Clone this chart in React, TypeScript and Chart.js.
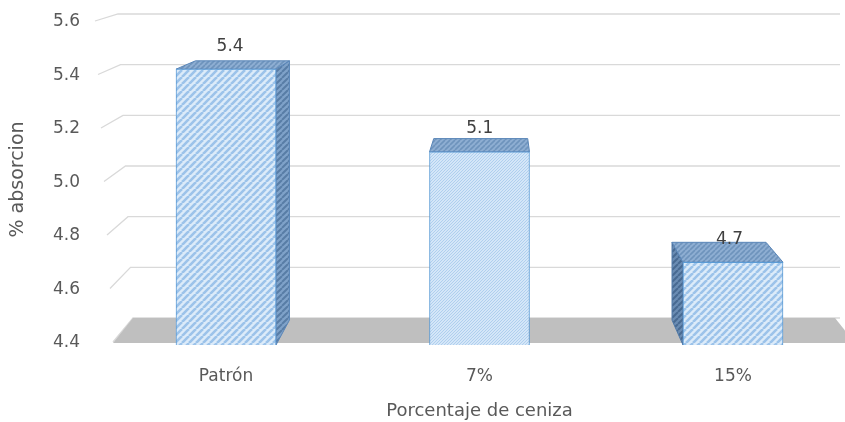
import React, { useEffect, useRef } from "react";
import { Chart, registerables } from "chart.js";

Chart.register(...registerables);

// Water absorption (%) for each ash content
const categories = ["Patrón", "7%", "15%"];
const absorption = [5.4, 5.1, 4.7];
const yTicks = [4.4, 4.6, 4.8, 5.0, 5.2, 5.4, 5.6];
const yMin = 4.4;
const yMax = 5.6;

const FONT = "'DejaVu Sans', sans-serif";
const TEXT = "#595959";
const LABEL = "#404040";

// Perspective helpers for the pseudo-3D column look
const VP = { x: 500, y: -70 };
const BAR_DEPTH = 0.06;

function stripes(bg: string, fg: string, period: number, width: number) {
  const c = document.createElement("canvas");
  c.width = period;
  c.height = period;
  const g = c.getContext("2d") as CanvasRenderingContext2D;
  g.fillStyle = bg;
  g.fillRect(0, 0, period, period);
  g.strokeStyle = fg;
  g.lineWidth = width;
  g.beginPath();
  for (let k = -1; k <= 1; k++) {
    g.moveTo(k * period, period);
    g.lineTo(k * period + period, 0);
  }
  g.stroke();
  return g.createPattern(c, "repeat") as CanvasPattern;
}

type Pt = { x: number; y: number };
const shift = (p: Pt): Pt => ({
  x: p.x + BAR_DEPTH * (VP.x - p.x),
  y: p.y + BAR_DEPTH * (VP.y - p.y),
});

function poly(ctx: CanvasRenderingContext2D, pts: Pt[], fill: any, stroke: string) {
  ctx.beginPath();
  ctx.moveTo(pts[0].x, pts[0].y);
  for (let i = 1; i < pts.length; i++) ctx.lineTo(pts[i].x, pts[i].y);
  ctx.closePath();
  ctx.fillStyle = fill;
  ctx.fill();
  ctx.strokeStyle = stroke;
  ctx.lineWidth = 1;
  ctx.stroke();
}

export default function App() {
  const ref = useRef<HTMLCanvasElement | null>(null);

  useEffect(() => {
    if (!ref.current) return;

    const frontFills = [
      stripes("#dcebf9", "#9cc3ea", 7, 2.6),
      stripes("#d4e6f8", "#afcfee", 3, 1),
      stripes("#dcebf9", "#9cc3ea", 7, 2.6),
    ];
    const topFill = stripes("#8eaed2", "#6e93bc", 5, 1.6);
    const sideFillRight = stripes("#7fa2c9", "#587da6", 6, 2);
    const sideFillLeft = stripes("#6a8cb3", "#486a92", 6, 2);

    const scene = {
      id: "scene3d",
      beforeDatasetsDraw(chart: any) {
        const ctx = chart.ctx as CanvasRenderingContext2D;
        const yl = chart.scales.yl;
        const yb = chart.scales.yBack;
        const y = chart.scales.y;
        ctx.save();

        // back wall + side wall gridlines
        ctx.strokeStyle = "#d9d9d9";
        ctx.lineWidth = 1.3;
        yTicks.forEach((v) => {
          const xf = 113 - (v - yMin) * 15;
          const xb = 133 - (v - yMin) * 12.5;
          const yf = yl.getPixelForValue(v) - 1;
          const ybk = yb.getPixelForValue(v);
          ctx.beginPath();
          ctx.moveTo(xf, yf);
          ctx.lineTo(xb, ybk);
          ctx.lineTo(840, ybk);
          ctx.stroke();
        });

        // floor
        const fy = y.getPixelForValue(yMin) - 2;
        const by = yb.getPixelForValue(yMin);
        ctx.beginPath();
        ctx.moveTo(113, fy);
        ctx.lineTo(133, by);
        ctx.lineTo(835, by);
        ctx.lineTo(855, fy);
        ctx.closePath();
        ctx.fillStyle = "#bfbfbf";
        ctx.fill();

        // side and top faces of the columns
        const meta = chart.getDatasetMeta(0);
        meta.data.forEach((el: any) => {
          const { x, y: top, base, width } = el.getProps(["x", "y", "base", "width"], true);
          const l = x - width / 2;
          const r = x + width / 2;
          const FL = { x: l, y: top };
          const FR = { x: r, y: top };
          if (r < VP.x) {
            const BRb = { x: r, y: base };
            poly(ctx, [FR, shift(FR), shift(BRb), BRb], sideFillRight, "#5a86b8");
          } else if (l > VP.x) {
            const BLb = { x: l, y: base };
            poly(ctx, [FL, shift(FL), shift(BLb), BLb], sideFillLeft, "#4f79a8");
          }
          poly(ctx, [FL, FR, shift(FR), shift(FL)], topFill, "#5a86b8");
        });
        ctx.restore();
      },
      afterDatasetsDraw(chart: any) {
        const ctx = chart.ctx as CanvasRenderingContext2D;
        const meta = chart.getDatasetMeta(0);
        ctx.save();
        ctx.font = `17px ${FONT}`;
        ctx.fillStyle = LABEL;
        ctx.textAlign = "center";
        ctx.textBaseline = "middle";
        meta.data.forEach((el: any, i: number) => {
          const { x, y } = el.getProps(["x", "y"], true);
          ctx.fillText(absorption[i].toFixed(1), x + (VP.x - x) * 0.015, y - 23);
        });
        ctx.restore();
      },
    };

    const chart = new Chart(ref.current, {
      type: "bar",
      data: {
        labels: categories,
        datasets: [
          {
            data: absorption,
            base: yMin,
            backgroundColor: frontFills as any,
            borderColor: "#5b9bd5",
            borderWidth: 1,
            barThickness: 100,
            clip: false as any,
          },
        ],
      },
      options: {
        responsive: true,
        maintainAspectRatio: false,
        animation: false,
        layout: { padding: { top: 14, right: 112, left: 0, bottom: 0 } },
        plugins: { legend: { display: false }, tooltip: { enabled: false } },
        scales: {
          x: {
            type: "category",
            offset: false,
            grid: { display: false, drawTicks: false },
            border: { display: false },
            ticks: {
              font: { family: FONT, size: 17 },
              color: TEXT,
              padding: 21,
              autoSkip: false,
              maxRotation: 0,
            },
            title: {
              display: true,
              text: "Porcentaje de ceniza",
              font: { family: FONT, size: 18 },
              color: TEXT,
              padding: { top: 0, bottom: 0 },
            },
            afterFit(scale: any) {
              scale.height = 77;
            },
          },
          y: {
            display: false,
            min: yMin,
            max: yMax,
          },
          yBack: {
            display: false,
            position: "left",
            min: 4.2934,
            max: yMax,
          },
          yl: {
            position: "left",
            min: 4.3925,
            max: 5.6299,
            grid: { display: false, drawTicks: false },
            border: { display: false },
            afterBuildTicks(scale: any) {
              scale.ticks = yTicks.map((v) => ({ value: v }));
            },
            ticks: {
              font: { family: FONT, size: 17 },
              color: TEXT,
              padding: 146,
              callback: (v: any) => Number(v).toFixed(1),
            },
            title: {
              display: true,
              text: "% absorcion",
              font: { family: FONT, size: 19 },
              color: TEXT,
              padding: { top: 7, bottom: 0 },
            },
            afterFit(scale: any) {
              scale.width = 226;
              scale.paddingTop = 0;
              scale.paddingBottom = 0;
            },
          },
        },
      } as any,
      plugins: [scene],
    });

    return () => chart.destroy();
  }, []);

  return (
    <div style={{ position: "absolute", left: 0, top: 0, width: 845, height: 422, background: "#fff" }}>
      <canvas ref={ref} />
    </div>
  );
}
